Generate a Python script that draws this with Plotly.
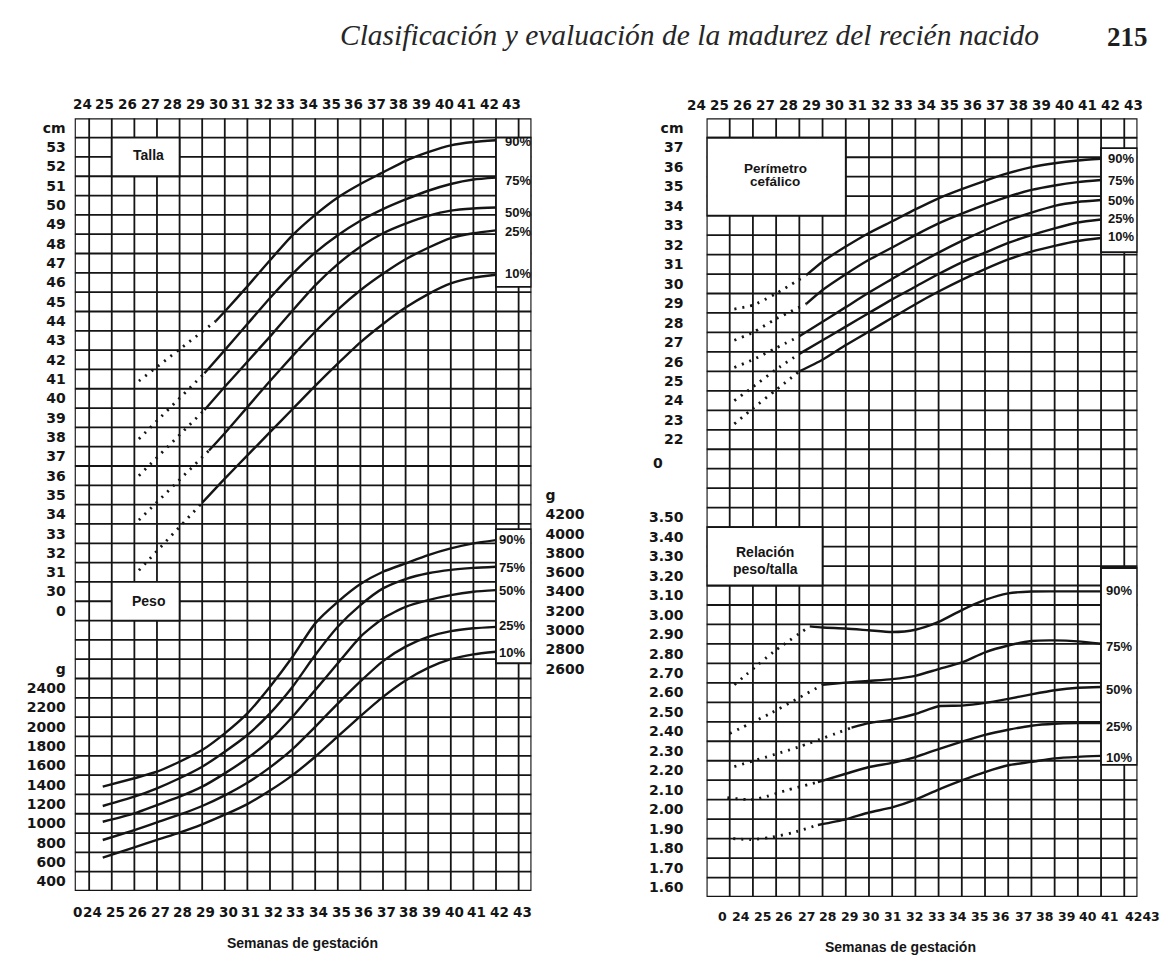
import plotly.graph_objects as go

INK = "#151515"
W, H = 1160, 961

# ---------------------------------------------------------------- values
PERCENTILES = ["90%", "75%", "50%", "25%", "10%"]

# Talla (cm): dotted early stretch, joined to weekly solid values
TALLA_DOT_START_WEEK = 26.2
TALLA_DOT_START = [40.9, 37.9, 36.0, 33.7, 31.1]
TALLA_JOIN_WEEK = [29.6, 29.1, 29.1, 29.3, 29.0]
TALLA_JOIN = [44.0, 41.3, 39.4, 37.3, 34.6]
TALLA_WEEKS = [30, 31, 32, 33, 34, 35, 36, 37, 38, 39, 40, 41, 42]
TALLA_90 = [44.5, 45.8, 47.15, 48.45, 49.5, 50.4, 51.1, 51.7, 52.3, 52.75, 53.1, 53.27, 53.36]
TALLA_75 = [42.5, 43.85, 45.2, 46.45, 47.55, 48.45, 49.2, 49.8, 50.3, 50.75, 51.1, 51.33, 51.43]
TALLA_50 = [40.6, 41.9, 43.2, 44.55, 45.85, 46.95, 47.85, 48.55, 49.05, 49.45, 49.72, 49.83, 49.88]
TALLA_25 = [38.2, 39.55, 40.9, 42.2, 43.45, 44.6, 45.6, 46.45, 47.2, 47.8, 48.3, 48.55, 48.7]
TALLA_10 = [35.85, 37.05, 38.25, 39.45, 40.65, 41.8, 42.9, 43.85, 44.7, 45.4, 45.95, 46.25, 46.4]

# Peso (g)
PESO_WEEKS = [24.6, 26, 27, 28, 29, 30, 31, 32, 33, 34, 35, 36, 37, 38, 39, 40, 41, 42]
PESO_90 = [1380, 1467, 1535, 1638, 1759, 1932, 2139, 2415, 2725, 3071, 3294, 3478, 3605, 3692, 3778, 3847, 3899, 3933]
PESO_75 = [1180, 1276, 1363, 1467, 1587, 1742, 1915, 2139, 2415, 2743, 3036, 3260, 3433, 3530, 3590, 3625, 3645, 3657]
PESO_50 = [1017, 1104, 1190, 1276, 1380, 1518, 1674, 1863, 2104, 2380, 2657, 2932, 3122, 3242, 3312, 3364, 3398, 3415]
PESO_25 = [828, 931, 1010, 1090, 1180, 1290, 1420, 1580, 1770, 2000, 2240, 2470, 2680, 2830, 2930, 2990, 3020, 3035]
PESO_10 = [645, 752, 830, 905, 990, 1090, 1200, 1340, 1500, 1690, 1900, 2110, 2310, 2480, 2610, 2700, 2750, 2777]

# Perimetro cefalico (cm)
PC_DOT_WEEKS = [26.2, 27, 28]
PC_DOT_90 = [28.7, 28.9, 29.5]
PC_DOT_75 = [27.1, 27.5, 28.2]
PC_DOT_50 = [25.7, 26.1, 26.7]
PC_DOT_25 = [24.0, 24.7, 25.6]
PC_DOT_10 = [22.8, 23.6, 24.55]
PC_JOIN_WEEK = [29.3, 29.3, 29.0, 29.0, 29.0]
PC_JOIN = [30.44, 28.97, 27.3, 26.4, 25.5]
PC_WEEKS = [30, 31, 32, 33, 34, 35, 36, 37, 38, 39, 40, 41, 42]
PC_90 = [31.13, 31.91, 32.61, 33.21, 33.82, 34.39, 34.86, 35.29, 35.68, 35.99, 36.19, 36.33, 36.42]
PC_75 = [29.68, 30.49, 31.23, 31.86, 32.5, 33.1, 33.6, 34.06, 34.48, 34.82, 35.05, 35.22, 35.33]
PC_50 = [28.05, 28.8, 29.55, 30.25, 30.95, 31.6, 32.2, 32.75, 33.25, 33.65, 34.0, 34.2, 34.3]
PC_25 = [27.1, 27.8, 28.5, 29.2, 29.85, 30.5, 31.1, 31.6, 32.1, 32.5, 32.85, 33.15, 33.3]
PC_10 = [26.1, 26.85, 27.55, 28.25, 28.95, 29.6, 30.2, 30.75, 31.25, 31.65, 31.95, 32.2, 32.35]

# Relacion peso/talla
RPT_90_DOT_WEEKS = [26.2, 27.9, 29.45]
RPT_90_DOT = [2.64, 2.81, 2.94]
RPT_75_DOT_WEEKS = [26.0, 27.7, 30.0]
RPT_75_DOT = [2.39, 2.49, 2.64]
RPT_50_DOT_WEEKS = [26.2, 28.95, 31.25]
RPT_50_DOT = [2.22, 2.32, 2.42]
RPT_25_DOT_WEEKS = [25.9, 26.9, 27.4, 28.5, 29.8]
RPT_25_DOT = [2.06, 2.05, 2.06, 2.10, 2.14]
RPT_10_DOT_WEEKS = [26.15, 26.9, 27.7, 28.7, 29.8]
RPT_10_DOT = [1.85, 1.845, 1.855, 1.88, 1.92]

RPT_90_WEEKS = [29.45, 30, 31, 32, 33, 34, 35, 36, 37, 38, 39, 40, 41, 42]
RPT_90 = [2.94, 2.934, 2.929, 2.92, 2.911, 2.923, 2.963, 3.024, 3.076, 3.11, 3.119, 3.12, 3.12, 3.12]
RPT_75_WEEKS = [30, 31, 32, 33, 34, 35, 36, 37, 38, 39, 40, 41, 42]
RPT_75 = [2.64, 2.651, 2.66, 2.669, 2.686, 2.721, 2.755, 2.807, 2.842, 2.865, 2.868, 2.863, 2.851]
RPT_50_WEEKS = [31.25, 32, 33, 34, 35, 36, 37, 38, 39, 40, 41, 42]
RPT_50 = [2.42, 2.443, 2.461, 2.49, 2.53, 2.533, 2.547, 2.568, 2.591, 2.612, 2.625, 2.629]
RPT_25_WEEKS = [29.8, 31, 32, 33, 34, 35, 36, 37, 38, 39, 40, 41, 42]
RPT_25 = [2.14, 2.183, 2.218, 2.239, 2.269, 2.31, 2.348, 2.383, 2.409, 2.43, 2.44, 2.443, 2.443]
RPT_10_WEEKS = [29.8, 31, 32, 33, 34, 35, 36, 37, 38, 39, 40, 41, 42]
RPT_10 = [1.92, 1.949, 1.984, 2.01, 2.05, 2.102, 2.149, 2.192, 2.227, 2.244, 2.262, 2.27, 2.275]

# axis tick labels
WEEK_LABELS = list(range(24, 44))
CM_LEFT_TICKS = list(range(53, 29, -1))
G_LEFT_TICKS = list(range(2400, 399, -200))
G_RIGHT_TICKS = list(range(4200, 2599, -200))
CM_RIGHT_TICKS = list(range(37, 21, -1))
RATIO_TICKS = [round(3.5 - 0.1 * i, 2) for i in range(20)]

# ---------------------------------------------------------------- layout geometry (px)
L_X0, L_X1, L_Y0, L_Y1 = 74.7, 531.5, 118.3, 891.0
R_X0, R_X1, R_Y0, R_Y1 = 706.5, 1137.5, 118.3, 897.0
L_WEEK_RANGE = [23.36, 43.57]
R_WEEK_RANGE = [25.0, 43.57]
CM_L_RANGE = [14.5, 54.5]
G_RANGE = [300, 8300]
CM_R_RANGE = [-1.5, 38.5]
RATIO_RANGE = [1.55, 5.55]


def pxx(x):
    return x / W


def pxy(y):
    return 1 - y / H


def l_px(week):
    """pixel column of a week position on the left sheet"""
    return L_X0 + (week - L_WEEK_RANGE[0]) * (L_X1 - L_X0) / (L_WEEK_RANGE[1] - L_WEEK_RANGE[0])


NUM_FONT = dict(family="DejaVu Sans, Arial, sans-serif", size=13.5, color=INK, weight="bold")
SMALL_NUM_FONT = dict(NUM_FONT, size=12.5)
YNUM_FONT = dict(NUM_FONT, size=14)
TXT_FONT = dict(family="Liberation Sans, Arial, sans-serif", size=14, color=INK, weight="bold")
PCT_FONT = dict(family="Liberation Sans, Arial, sans-serif", size=13, color=INK, weight="bold")

fig = go.Figure()


def curve(x, y, xa, ya, dotted=False):
    fig.add_trace(go.Scatter(
        x=x, y=y, xaxis=xa, yaxis=ya, mode="lines",
        line=dict(color=INK, width=2.8 if dotted else 2.4,
                  dash="2px,6px" if dotted else "solid",
                  shape="spline", smoothing=0.6),
        hoverinfo="skip", showlegend=False))


# Talla
for i, vals in enumerate([TALLA_90, TALLA_75, TALLA_50, TALLA_25, TALLA_10]):
    curve([TALLA_DOT_START_WEEK, TALLA_JOIN_WEEK[i]], [TALLA_DOT_START[i], TALLA_JOIN[i]], "x", "y", dotted=True)
    curve([TALLA_JOIN_WEEK[i]] + TALLA_WEEKS, [TALLA_JOIN[i]] + vals, "x", "y")

# Peso
for vals in [PESO_90, PESO_75, PESO_50, PESO_25, PESO_10]:
    curve(PESO_WEEKS, vals, "x", "y2")

# placeholder so the right-hand gram scale is laid out
fig.add_trace(go.Scatter(x=[], y=[], xaxis="x", yaxis="y5", showlegend=False))

# Perimetro cefalico
for i, (dot, vals) in enumerate(zip([PC_DOT_90, PC_DOT_75, PC_DOT_50, PC_DOT_25, PC_DOT_10],
                                    [PC_90, PC_75, PC_50, PC_25, PC_10])):
    curve(PC_DOT_WEEKS + [PC_JOIN_WEEK[i]], dot + [PC_JOIN[i]], "x2", "y3", dotted=True)
    curve([PC_JOIN_WEEK[i]] + PC_WEEKS, [PC_JOIN[i]] + vals, "x2", "y3")

# Relacion peso/talla
for dw, dv, sw, sv in [
    (RPT_90_DOT_WEEKS, RPT_90_DOT, RPT_90_WEEKS, RPT_90),
    (RPT_75_DOT_WEEKS, RPT_75_DOT, RPT_75_WEEKS, RPT_75),
    (RPT_50_DOT_WEEKS, RPT_50_DOT, RPT_50_WEEKS, RPT_50),
    (RPT_25_DOT_WEEKS, RPT_25_DOT, RPT_25_WEEKS, RPT_25),
    (RPT_10_DOT_WEEKS, RPT_10_DOT, RPT_10_WEEKS, RPT_10),
]:
    curve(dw, dv, "x2", "y4", dotted=True)
    curve(sw, sv, "x2", "y4")

# ---------------------------------------------------------------- grid, boxes, frames
shapes = []
GRID_W = 1.8


def seg(x0, x1, y0, y1, xref, yref, w=GRID_W):
    shapes.append(dict(type="line", x0=x0, x1=x1, y0=y0, y1=y1, xref=xref, yref=yref,
                       line=dict(color=INK, width=w), layer="below"))


def box(x0, x1, y0, y1, xref, yref, fill="white", w=GRID_W):
    shapes.append(dict(type="rect", x0=x0, x1=x1, y0=y0, y1=y1, xref=xref, yref=yref,
                       fillcolor=fill, line=dict(color=INK, width=w), layer="below"))


# left sheet: 40 rows of 1 cm, columns at every week
for k in range(1, 40):
    seg(L_WEEK_RANGE[0], L_WEEK_RANGE[1], CM_L_RANGE[1] - k, CM_L_RANGE[1] - k, "x", "y")
for wk in range(24, 44):
    seg(wk, wk, CM_L_RANGE[0], CM_L_RANGE[1], "x", "y")
box(25, 28, 51.5, 53.5, "x", "y")                      # Talla
box(42, L_WEEK_RANGE[1], 45.77, 53.5, "x", "y")        # Talla percentiles
box(25, 28, 28.5, 30.5, "x", "y")                      # Peso
box(42, L_WEEK_RANGE[1], 26.29, 33.23, "x", "y")       # Peso percentiles
box(L_WEEK_RANGE[0], L_WEEK_RANGE[1], CM_L_RANGE[0], CM_L_RANGE[1], "x", "y", fill="rgba(0,0,0,0)", w=2.3)

# right sheet
for k in range(1, 40):
    seg(R_WEEK_RANGE[0], R_WEEK_RANGE[1], CM_R_RANGE[1] - k, CM_R_RANGE[1] - k, "x2", "y3")
for wk in range(26, 44):
    seg(wk, wk, CM_R_RANGE[0], CM_R_RANGE[1], "x2", "y3")
box(25, 31, 33.5, 37.5, "x2", "y3")                    # Perimetro cefalico
box(42, R_WEEK_RANGE[1], 31.63, 36.97, "x2", "y3")     # its percentiles
box(25, 30, 14.5, 17.5, "x2", "y3")                    # Relacion peso/talla
box(42, R_WEEK_RANGE[1], 5.29, 15.4, "x2", "y3")       # its percentiles
box(R_WEEK_RANGE[0], R_WEEK_RANGE[1], CM_R_RANGE[0], CM_R_RANGE[1], "x2", "y3", fill="rgba(0,0,0,0)", w=2.3)

# ---------------------------------------------------------------- text
ann = []


def text(x_px, y_px, s, font, xanchor="center"):
    ann.append(dict(x=pxx(x_px), y=pxy(y_px), xref="paper", yref="paper", text=s, showarrow=False,
                    font=font, xanchor=xanchor, yanchor="middle"))


# week labels above and below the left sheet
for wk in WEEK_LABELS:
    text(l_px(wk - 0.3), 104, str(wk), NUM_FONT)
    text(l_px(wk + 0.15), 912, str(wk), NUM_FONT)
text(77.3, 912, "0", NUM_FONT)

# week labels above and below the right sheet
for wk in WEEK_LABELS:
    text(696 + (wk - 24) * 23.0, 105, str(wk), NUM_FONT)
for wk in range(24, 42):
    text(741 + (wk - 24) * 21.7, 916, str(wk), SMALL_NUM_FONT)
text(1142, 916, "4243", SMALL_NUM_FONT)
text(722, 916, "0", SMALL_NUM_FONT)
text(658, 463, "0", YNUM_FONT)

text(302, 943, "Semanas de gestación", TXT_FONT)
text(900, 947, "Semanas de gestación", TXT_FONT)

# sheet titles
text(148.3, 155, "Talla", TXT_FONT)
text(148.3, 600.7, "Peso", TXT_FONT)
text(775, 168.3, "Perímetro", dict(TXT_FONT, size=13.5))
text(775, 181.7, "cefálico", dict(TXT_FONT, size=13.5))
text(765, 551.5, "Relación", TXT_FONT)
text(765, 569.3, "peso/talla", TXT_FONT)

# percentile tags
for s, y in zip(PERCENTILES, [141.7, 180, 212.7, 231.7, 273.3]):
    text(517.5, y, s, PCT_FONT)
for s, y in zip(PERCENTILES, [539.3, 567.3, 590.7, 625, 652.7]):
    text(511.5, y, s, PCT_FONT)
for s, y in zip(PERCENTILES, [158.3, 180, 200, 218.3, 236.7]):
    text(1121, y, s, PCT_FONT)
for s, y in zip(PERCENTILES, [590, 646.7, 689.3, 726.7, 757.3]):
    text(1118.5, y, s, PCT_FONT)

# running head
text(689, 35, "<i>Clasificación y evaluación de la madurez del recién nacido</i>",
     dict(family="Liberation Serif, Times New Roman, serif", size=29.5, color="#262626"))
text(1127, 37, "<b>215</b>",
     dict(family="Liberation Serif, Times New Roman, serif", size=27, color="#1e1e1e"))

# ---------------------------------------------------------------- axes
hidden_x = dict(showgrid=False, zeroline=False, showline=False, showticklabels=False, ticks="")


def yax(**kw):
    base = dict(showgrid=False, zeroline=False, showline=False, ticks="", tickmode="array",
                tickfont=YNUM_FONT)
    base.update(kw)
    return base


fig.update_layout(
    width=W, height=H, autosize=False,
    margin=dict(l=0, r=0, t=0, b=0),
    paper_bgcolor="white", plot_bgcolor="white",
    showlegend=False,
    xaxis=dict(hidden_x, domain=[pxx(L_X0), pxx(L_X1)], range=L_WEEK_RANGE, anchor="y"),
    xaxis2=dict(hidden_x, domain=[pxx(R_X0), pxx(R_X1)], range=R_WEEK_RANGE, anchor="y3"),
    yaxis=yax(domain=[pxy(L_Y1), pxy(L_Y0)], range=CM_L_RANGE, anchor="x",
              tickvals=[54] + CM_LEFT_TICKS + [29],
              ticktext=["cm"] + [str(v) for v in CM_LEFT_TICKS] + ["0"],
              ticklabelstandoff=8),
    yaxis2=yax(range=G_RANGE, overlaying="y", anchor="x", side="left",
               tickvals=[2600] + G_LEFT_TICKS,
               ticktext=["g"] + [str(v) for v in G_LEFT_TICKS],
               ticklabelstandoff=8),
    yaxis5=yax(range=G_RANGE, overlaying="y", anchor="x", side="right",
               tickvals=[4400] + G_RIGHT_TICKS,
               ticktext=["g"] + [str(v) for v in G_RIGHT_TICKS],
               ticklabelstandoff=13),
    yaxis3=yax(domain=[pxy(R_Y1), pxy(R_Y0)], range=CM_R_RANGE, anchor="x2",
               tickvals=[38] + CM_RIGHT_TICKS,
               ticktext=["cm"] + [str(v) for v in CM_RIGHT_TICKS],
               ticklabelstandoff=22),
    yaxis4=yax(range=RATIO_RANGE, overlaying="y3", anchor="x2", side="left",
               tickvals=RATIO_TICKS, ticktext=[f"{v:.2f}" for v in RATIO_TICKS],
               ticklabelstandoff=22),
    shapes=shapes,
    annotations=ann,
)

fig.write_html("out.html")
